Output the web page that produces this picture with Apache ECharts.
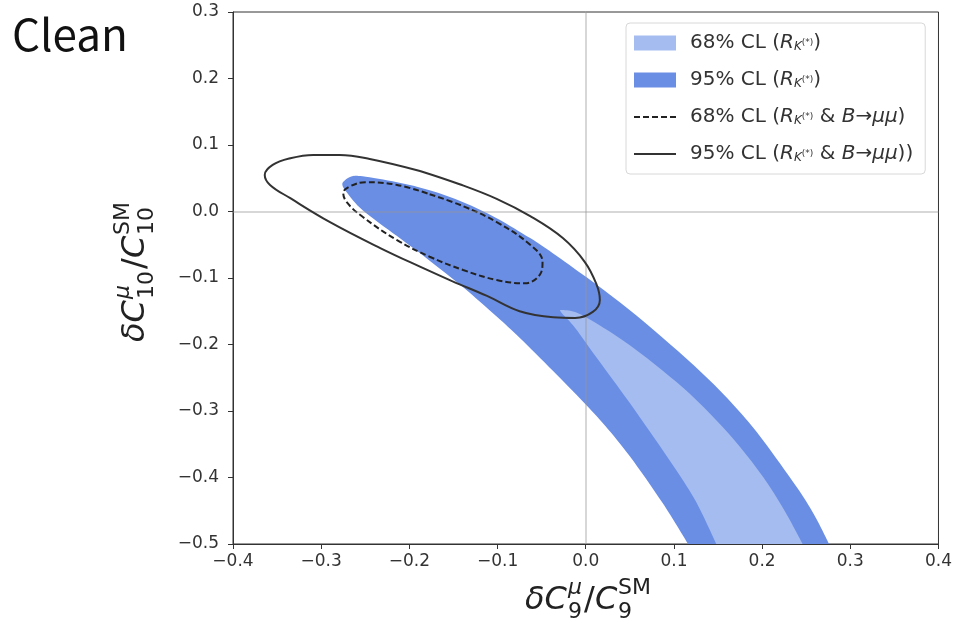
<!DOCTYPE html>
<html>
<head>
<meta charset="utf-8">
<title>Clean</title>
<script src="https://cdn.jsdelivr.net/npm/echarts@6/dist/echarts.min.js"></script>
<style>
  html, body { margin: 0; background: #fff; }
  #chart { width: 955px; height: 625px; }
</style>
</head>
<body>
<div id="chart"></div>
<script>
// outlines, [dC9/C9, dC10/C10]
// 95% CL band from R_K(*) alone
const band95 = [
  [-0.273, 0.047], [-0.265, 0.053], [-0.253, 0.053], [-0.214, 0.044], [-0.177, 0.032],
  [-0.139, 0.014], [-0.101, -0.010], [-0.063, -0.040], [-0.037, -0.063], [0.001, -0.099],
  [0.039, -0.137], [0.076, -0.177], [0.114, -0.221], [0.146, -0.261], [0.175, -0.302],
  [0.201, -0.344], [0.239, -0.414], [0.259, -0.456], [0.276, -0.5],
  [0.116, -0.5], [0.087, -0.438], [0.050, -0.368], [0.022, -0.322], [-0.003, -0.286],
  [-0.037, -0.240], [-0.075, -0.190], [-0.101, -0.158], [-0.139, -0.114], [-0.177, -0.074],
  [-0.214, -0.037], [-0.253, 0.002], [-0.270, 0.027], [-0.276, 0.040]
];
const band95Corners = [18, 19];
// 68% CL band from R_K(*) alone
const band68 = [
  [-0.029, -0.148], [-0.012, -0.151], [0.012, -0.168], [0.050, -0.201], [0.087, -0.239],
  [0.118, -0.274], [0.148, -0.314], [0.175, -0.354], [0.201, -0.399], [0.225, -0.449],
  [0.246, -0.5], [0.148, -0.5], [0.124, -0.434], [0.095, -0.374], [0.050, -0.288],
  [0.012, -0.219], [-0.012, -0.175], [-0.027, -0.153]
];
const band68Corners = [0, 10, 11];
// R_K(*) & B->mumu, 95% CL (solid contour)
const ell95 = [
  [-0.188, 0.061], [-0.143, 0.041], [-0.101, 0.019], [-0.063, -0.007], [-0.026, -0.040],
  [-0.001, -0.076], [0.012, -0.109], [0.016, -0.133], [0.008, -0.151], [-0.012, -0.160],
  [-0.037, -0.159], [-0.075, -0.150], [-0.112, -0.127], [-0.151, -0.105], [-0.188, -0.083],
  [-0.233, -0.055], [-0.290, -0.016], [-0.335, 0.020], [-0.358, 0.040], [-0.364, 0.055],
  [-0.355, 0.070], [-0.335, 0.080], [-0.309, 0.085], [-0.279, 0.085], [-0.245, 0.079],
  [-0.188, 0.061]
];
// R_K(*) & B->mumu, 68% CL (dashed contour)
const ell68 = [
  [-0.177, 0.026], [-0.139, 0.008], [-0.101, -0.016], [-0.063, -0.050], [-0.049, -0.076],
  [-0.052, -0.095], [-0.069, -0.108], [-0.101, -0.103], [-0.139, -0.088], [-0.177, -0.068],
  [-0.214, -0.043], [-0.253, -0.008], [-0.271, 0.014], [-0.275, 0.028], [-0.267, 0.038],
  [-0.250, 0.044], [-0.214, 0.040], [-0.177, 0.026]
];

const xMin = -0.4, xMax = 0.4;
const yMin = -0.5, yMax = 0.3;
const tickStep = 0.1;

const seriesNames = ['68% CL (R_K)', '95% CL (R_K)', '68% CL (R_K & Bmumu)', '95% CL (R_K & Bmumu))'];
const legendLabels = [
  '{g|}68% CL ({i|R}{s|K}{ss|(*)})',
  '{g|}95% CL ({i|R}{s|K}{ss|(*)})',
  '{g|}68% CL ({i|R}{s|K}{ss|(*)} & {i|B}→{i|μμ})',
  '{g|}95% CL ({i|R}{s|K}{ss|(*)} & {i|B}→{i|μμ}))'
];

const chart = echarts.init(document.getElementById('chart'));

// closed smooth outline through the points, sharp at the given corners
function outlinePath(pts, corners) {
  const n = pts.length;
  const tan = pts.map(function (p, i) {
    if (corners.indexOf(i) >= 0) return [0, 0];
    const a = pts[(i - 1 + n) % n], b = pts[(i + 1) % n];
    return [(b[0] - a[0]) / 6, (b[1] - a[1]) / 6];
  });
  const f = v => v.toFixed(2);
  let d = 'M' + f(pts[0][0]) + ' ' + f(pts[0][1]);
  for (let i = 0; i < n; i++) {
    const j = (i + 1) % n;
    d += ' C' + f(pts[i][0] + tan[i][0]) + ' ' + f(pts[i][1] + tan[i][1]) + ' ' +
      f(pts[j][0] - tan[j][0]) + ' ' + f(pts[j][1] - tan[j][1]) + ' ' + f(pts[j][0]) + ' ' + f(pts[j][1]);
  }
  return d + ' Z';
}

function fillBand(points, corners, color) {
  return function (params, api) {
    if (params.dataIndex !== 0) return null;
    const cs = params.coordSys;
    const px = points.map(p => api.coord(p));
    return {
      type: 'path',
      shape: { pathData: outlinePath(px, corners) },
      style: { fill: color },
      clipPath: { type: 'rect', shape: { x: cs.x, y: cs.y, width: cs.width, height: cs.height } }
    };
  };
}

function tickText(v) {
  const s = Math.abs(v).toFixed(1);
  return v < -1e-9 ? '\u2212' + s : s;
}

const ff = '"DejaVu Sans"';
function txt(x, y, text, size, italic) {
  return {
    type: 'text', x: x, y: y,
    style: {
      text: text, fill: '#222',
      font: (italic ? 'italic ' : '') + size + 'px ' + ff,
      verticalAlign: 'middle', align: 'left'
    }
  };
}
// dC^mu_sub / C^SM_sub laid out from left to right
function mathLabel(sub, stackW) {
  const a = 32, b = 22;
  const x1 = 43, x2 = x1 + stackW + 2, x3 = x2 + 11, x4 = x3 + 23;
  return [
    txt(0, 0, 'δC', a, true),
    txt(x1, -13, 'μ', b, true),
    txt(x1, 11, sub, b, false),
    txt(x2, 0, '/', a, false),
    txt(x3, 0, 'C', a, true),
    txt(x4, -13, 'SM', b, false),
    txt(x4, 11, sub, b, false)
  ];
}

const lineLegendStyle = { color: 'rgba(0,0,0,0)', borderColor: 'rgba(0,0,0,0)', borderWidth: 0 };

const option = {
  backgroundColor: '#fff',
  animation: false,
  grid: {
    left: 233, right: 16, top: 12, bottom: 81,
    show: true, borderColor: '#333', borderWidth: 1
  },
  xAxis: {
    type: 'value', min: xMin, max: xMax, interval: tickStep,
    axisLine: { onZero: false, lineStyle: { color: '#333' } },
    axisTick: { length: 5, lineStyle: { color: '#333' } },
    splitLine: { show: false },
    axisLabel: { color: '#333', fontSize: 17, fontFamily: 'DejaVu Sans', margin: 9, formatter: tickText }
  },
  yAxis: {
    type: 'value', min: yMin, max: yMax, interval: tickStep,
    axisLine: { show: true, onZero: false, lineStyle: { color: '#333' } },
    axisTick: { show: true, length: 5, lineStyle: { color: '#333' } },
    splitLine: { show: false },
    axisLabel: { color: '#333', fontSize: 17, fontFamily: 'DejaVu Sans', margin: 14, formatter: tickText }
  },
  legend: {
    orient: 'vertical',
    left: 626, top: 23,
    padding: [10, 12, 10, 7],
    itemGap: 17,
    itemWidth: 42, itemHeight: 15,
    backgroundColor: '#fff',
    borderColor: '#d8d8d8', borderWidth: 1, borderRadius: 4,
    data: [
      { name: seriesNames[0], icon: 'rect' },
      { name: seriesNames[1], icon: 'rect' },
      { name: seriesNames[2], itemStyle: lineLegendStyle },
      { name: seriesNames[3], itemStyle: lineLegendStyle }
    ],
    formatter: function (name) {
      return legendLabels[seriesNames.indexOf(name)];
    },
    textStyle: {
      color: '#333', fontSize: 20, fontFamily: 'DejaVu Sans',
      rich: {
        g: { width: 9 },
        i: { fontStyle: 'italic', fontSize: 20, fontFamily: 'DejaVu Sans', color: '#333' },
        s: { fontStyle: 'italic', fontSize: 12, fontFamily: 'DejaVu Sans', color: '#333', verticalAlign: 'bottom', padding: [8, 0, 0, 0] },
        ss: { fontSize: 9, fontFamily: 'DejaVu Sans', color: '#333', verticalAlign: 'bottom', padding: [0, 0, 6, 0] }
      }
    }
  },
  graphic: [
    {
      type: 'text', left: 12, top: 12,
      style: { text: 'Clean', fill: '#111', font: '44px "Noto Sans CJK JP"' }
    },
    { type: 'group', x: 525, y: 601, children: mathLabel('9', 14) },
    { type: 'group', x: 136, y: 342, rotation: Math.PI / 2, children: mathLabel('10', 28) }
  ],
  series: [
    {
      name: seriesNames[1], type: 'custom', data: band95, z: 1,
      itemStyle: { color: '#6a8ee4' },
      renderItem: fillBand(band95, band95Corners, '#6a8ee4')
    },
    {
      name: seriesNames[0], type: 'custom', data: band68, z: 2,
      itemStyle: { color: '#a5bcf0' },
      renderItem: fillBand(band68, band68Corners, '#a5bcf0')
    },
    {
      name: seriesNames[2], type: 'line', data: ell68, z: 4,
      smooth: 0.4, symbol: 'none', color: '#222',
      lineStyle: { color: '#222', width: 2, type: [6, 3] }
    },
    {
      name: seriesNames[3], type: 'line', data: ell95, z: 5,
      smooth: 0.4, symbol: 'none', color: '#333',
      lineStyle: { color: '#333', width: 2 },
      markLine: {
        silent: true, symbol: 'none', label: { show: false },
        lineStyle: { color: 'rgba(150,150,150,0.5)', width: 1.5, type: 'solid' },
        data: [{ xAxis: 0 }, { yAxis: 0 }]
      }
    }
  ]
};

chart.setOption(option);
window.addEventListener('resize', function () {
  chart.resize();
});
</script>
</body>
</html>
